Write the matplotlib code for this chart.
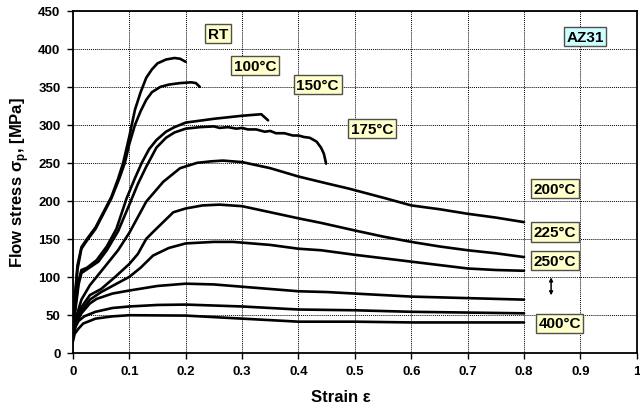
import matplotlib
matplotlib.use('Agg')
import matplotlib.pyplot as plt

plt.rcParams['font.family'] = ['Liberation Sans', 'DejaVu Sans']
plt.rcParams['font.weight'] = 'bold'

# flow curves (strain, stress in MPa)
rt_x = [0, 0.003, 0.008, 0.015, 0.025, 0.04, 0.054, 0.068, 0.08, 0.089, 0.1, 0.11, 0.12, 0.13, 0.14, 0.15, 0.165, 0.18, 0.19, 0.2]
rt_y = [25, 70, 115, 139, 150, 165, 185, 205, 229, 250, 285, 320, 343, 362, 373, 381, 386, 388, 387, 383]

t100_x = [0, 0.003, 0.008, 0.015, 0.025, 0.04, 0.054, 0.068, 0.082, 0.092, 0.1, 0.11, 0.12, 0.13, 0.14, 0.155, 0.17, 0.19, 0.21, 0.218, 0.225]
t100_y = [25, 65, 110, 137, 148, 163, 183, 203, 229, 250, 275, 300, 318, 333, 343, 350, 353, 355, 356, 355, 350]

t150_x = [0, 0.004, 0.01, 0.015, 0.025, 0.042, 0.06, 0.077, 0.095, 0.11, 0.122, 0.135, 0.148, 0.165, 0.18, 0.2, 0.25, 0.3, 0.334, 0.346]
t150_y = [25, 60, 95, 109, 112, 122, 140, 163, 203, 230, 250, 268, 280, 291, 297, 303, 308, 312, 314, 306]

t175_x = [0, 0.004, 0.01, 0.015, 0.025, 0.045, 0.06, 0.08, 0.1, 0.115, 0.13, 0.148, 0.165, 0.18, 0.2, 0.225, 0.25,
          0.26, 0.275, 0.29, 0.3, 0.31, 0.325, 0.34, 0.35, 0.36, 0.375, 0.39, 0.4, 0.41, 0.42, 0.432, 0.44, 0.445, 0.449]
t175_y = [25, 55, 90, 105, 110, 120, 135, 160, 195, 222, 245, 270, 283, 290, 295, 297, 298,
          296, 297, 295, 296, 294, 294, 291, 292, 289, 289, 286, 286, 284, 283, 278, 270, 262, 249]

t200_x = [0, 0.005, 0.015, 0.03, 0.054, 0.08, 0.1, 0.13, 0.16, 0.19, 0.22, 0.245, 0.266, 0.3, 0.35, 0.4, 0.45, 0.49, 0.556, 0.6, 0.65, 0.7, 0.75, 0.8]
t200_y = [25, 45, 70, 89, 111, 135, 158, 199, 225, 243, 250, 252, 253, 251, 243, 232, 223, 216, 203, 194, 189, 183, 178, 172]

t225_x = [0, 0.005, 0.015, 0.03, 0.05, 0.075, 0.1, 0.115, 0.13, 0.142, 0.16, 0.178, 0.2, 0.23, 0.26, 0.3, 0.35, 0.4, 0.44, 0.5, 0.55, 0.6, 0.65, 0.7, 0.75, 0.8]
t225_y = [25, 42, 60, 76, 84, 100, 117, 130, 150, 159, 172, 185, 190, 194, 195, 193, 185, 177, 171, 161, 153, 146, 140, 135, 131, 126]

t250_x = [0, 0.005, 0.015, 0.03, 0.05, 0.075, 0.1, 0.12, 0.142, 0.17, 0.2, 0.25, 0.284, 0.35, 0.4, 0.44, 0.5, 0.6, 0.7, 0.75, 0.8]
t250_y = [25, 40, 55, 70, 80, 90, 100, 112, 128, 138, 144, 146, 146, 142, 137, 135, 129, 120, 111, 109, 108]

t300_x = [0, 0.005, 0.015, 0.03, 0.042, 0.07, 0.1, 0.15, 0.2, 0.25, 0.3, 0.4, 0.45, 0.5, 0.6, 0.7, 0.8]
t300_y = [25, 38, 52, 65, 71, 78, 82, 88, 91, 90, 87, 81, 80, 78, 74, 72, 70]

t350_x = [0, 0.005, 0.01, 0.02, 0.04, 0.07, 0.1, 0.15, 0.2, 0.3, 0.4, 0.5, 0.6, 0.7, 0.8]
t350_y = [22, 35, 42, 48, 54, 59, 61, 63, 63.5, 61, 57, 56, 54, 53, 52]

t400_x = [0, 0.003, 0.01, 0.018, 0.04, 0.07, 0.1, 0.2, 0.3, 0.4, 0.5, 0.6, 0.7, 0.8]
t400_y = [15, 25, 32, 38.5, 45, 48, 49.5, 49, 45, 41, 41, 40, 40, 40]

curves = [(rt_x, rt_y), (t100_x, t100_y), (t150_x, t150_y), (t175_x, t175_y), (t200_x, t200_y),
          (t225_x, t225_y), (t250_x, t250_y), (t300_x, t300_y), (t350_x, t350_y), (t400_x, t400_y)]

# label boxes: text, x, y, fill colour
labels = [('RT', 0.257, 420, '#ffffcc'), ('100°C', 0.323, 378, '#ffffcc'), ('150°C', 0.434, 353, '#ffffcc'),
          ('175°C', 0.53, 295, '#ffffcc'), ('200°C', 0.855, 216, '#ffffcc'), ('225°C', 0.855, 159, '#ffffcc'),
          ('250°C', 0.855, 121, '#ffffcc'), ('400°C', 0.863, 39, '#ffffcc'), ('AZ31', 0.908, 416, '#ccffff')]

x_ticks = [0, 0.1, 0.2, 0.3, 0.4, 0.5, 0.6, 0.7, 0.8, 0.9, 1.0]
x_tick_labels = ['0', '0.1', '0.2', '0.3', '0.4', '0.5', '0.6', '0.7', '0.8', '0.9', '1']
y_ticks = [0, 50, 100, 150, 200, 250, 300, 350, 400, 450]

fig = plt.figure(figsize=(6.4, 4.1), dpi=100)
ax = fig.add_axes([0.114, 0.137, 0.881, 0.834])

for cx, cy in curves:
    ax.plot(cx, cy, color='black', lw=1.9, solid_capstyle='round', solid_joinstyle='round')

for text, lx, ly, fc in labels:
    ax.text(lx, ly, text, ha='center', va='center', fontsize=11, fontweight='bold',
            bbox=dict(boxstyle='square,pad=0.17', fc=fc, ec='#505048', lw=1.0))

# double arrow between 250°C and 400°C
ax.annotate('', xy=(0.848, 72), xytext=(0.848, 103),
            arrowprops=dict(arrowstyle='<|-|>', lw=1.1, color='black', mutation_scale=5))

ax.set_xlim(0, 1)
ax.set_ylim(0, 450)
ax.set_xticks(x_ticks)
ax.set_xticklabels(x_tick_labels)
ax.set_yticks(y_ticks)
ax.tick_params(labelsize=9.5, length=4, width=1, pad=5)
for lab in ax.get_xticklabels() + ax.get_yticklabels():
    lab.set_fontweight('bold')
ax.grid(True, color='black', linestyle=(0, (1, 1)), lw=0.7)
for s in ax.spines.values():
    s.set_linewidth(1.3)

ax.set_xlabel('Strain ε', fontsize=12, fontweight='bold', va='center')
ax.xaxis.set_label_coords(0.475, -0.128)
ax.set_ylabel('Flow stress σ$_\\mathregular{p}$, [MPa]', fontsize=12, fontweight='bold', va='center')
ax.yaxis.set_label_coords(-0.094, 0.5)

fig.savefig('out.png', dpi=100)
